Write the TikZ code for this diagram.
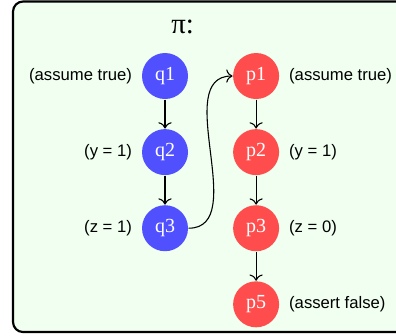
\documentclass[tikz,border=0pt]{standalone}
\usepackage{fontspec}
\setmainfont{Liberation Serif}
\setsansfont{Liberation Sans}
\usetikzlibrary{positioning,arrows.meta}
\definecolor{qblue}{HTML}{5050FF}
\definecolor{pred}{HTML}{FF4D4D}
\definecolor{bgmint}{HTML}{F0FFF0}

\begin{document}
\begin{tikzpicture}[>={To[scale=1.25]}, line width=0.65pt,
    state/.style={circle, minimum size=0.97cm, inner sep=0pt, text=white, font=\large},
    qstate/.style={state, fill=qblue},
    pstate/.style={state, fill=pred},
    note/.style={font=\sffamily\normalsize, inner sep=0pt},
    node distance=0.612cm and 0.928cm]
  % page size and clipping of the frame at the right edge
  \useasboundingbox (-3.480,1.603) rectangle (4.871,-5.462);
  \clip (-3.480,1.603) rectangle (4.871,-5.462);

  % mint frame round the whole run
  \draw[line width=1.3pt, rounded corners=6pt, fill=bgmint]
     (-3.205,1.571) rectangle (5.6,-5.399);

  \node[font=\LARGE] (pi) at (0.37,1.03) {π:};

  % left column
  \node[qstate] (q1) at (0,0) {q1};
  \node[qstate, below=of q1] (q2) {q2};
  \node[qstate, below=of q2] (q3) {q3};

  % right column
  \node[pstate, right=of q1] (p1) {p1};
  \node[pstate, below=of p1] (p2) {p2};
  \node[pstate, below=of p2] (p3) {p3};
  \node[pstate, below=of p3] (p5) {p5};

  % annotations
  \node[note, anchor=east] (lq1) at ([xshift=-0.19cm]q1.west) {(assume true)};
  \node[note, anchor=east] (lq2) at ([xshift=-0.19cm]q2.west) {(y = 1)};
  \node[note, anchor=east] (lq3) at ([xshift=-0.19cm]q3.west) {(z = 1)};
  \node[note, anchor=west] (lp1) at ([xshift=0.19cm]p1.east) {(assume true)};
  \node[note, anchor=west] (lp2) at ([xshift=0.19cm]p2.east) {(y = 1)};
  \node[note, anchor=west] (lp3) at ([xshift=0.19cm]p3.east) {(z = 0)};
  \node[note, anchor=west] (lp5) at ([xshift=0.19cm]p5.east) {(assert false)};

  % transitions
  \draw[->] (q1) -- (q2);
  \draw[->] (q2) -- (q3);
  \draw[->] (p1) -- (p2);
  \draw[->] (p2) -- (p3);
  \draw[->] (p3) -- (p5);
  \draw[->] (q3.east) to[out=0, in=180] (p1.west);
\end{tikzpicture}
\end{document}
